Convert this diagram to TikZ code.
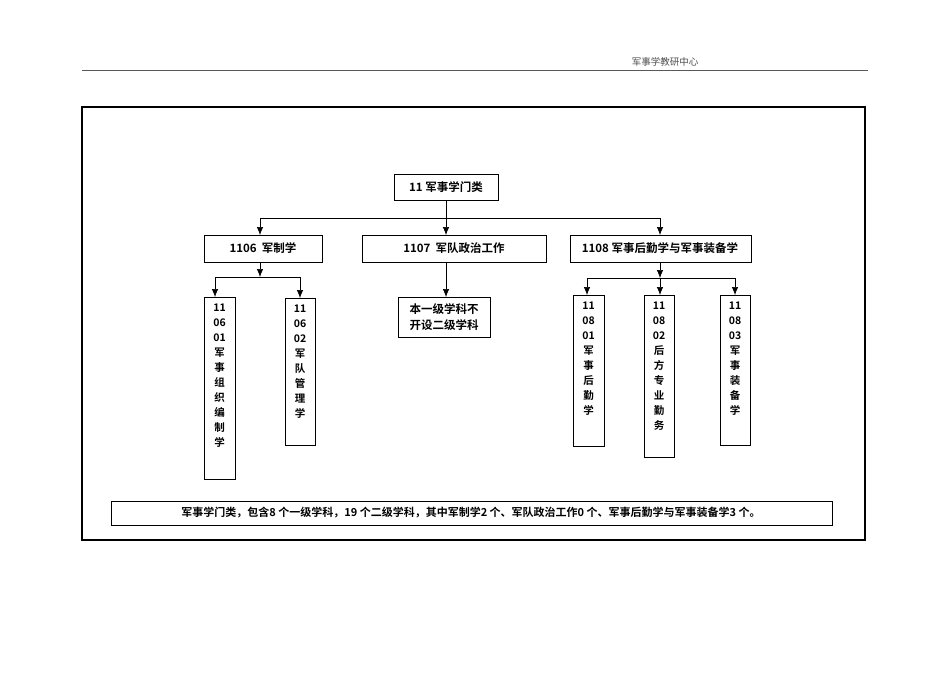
\documentclass[tikz,border=0pt]{standalone}
\usepackage{fontspec}
\usetikzlibrary{arrows.meta}
\newfontfamily\cjk{Noto Sans CJK SC}
\newfontfamily\cjkb{Noto Sans CJK SC Bold}
\begin{document}
\begin{tikzpicture}[x=1pt,y=-1pt,
  bx/.style={draw,line width=0.8pt},
  lbl/.style={font=\cjkb\fontsize{11.5}{13}\selectfont,inner sep=0pt},
  vt/.style={font=\cjkb\fontsize{10.5}{15}\selectfont,align=center,anchor=north,inner sep=0pt},
  ar/.style={-{Latex[length=8pt,width=6.5pt]},line width=0.7pt},
  ln/.style={line width=0.7pt}]
\useasboundingbox (0,0) rectangle (950,672);
\draw[line width=0.6pt,gray!70!black] (82,70) -- (868,70);
\node[font=\cjk\fontsize{9.5}{10}\selectfont,gray!60!black] (hdr) at (665,62) {军事学教研中心};
\draw[line width=1.6pt] (82,107) rectangle (865,540);
% top
\draw[bx] (394,174) rectangle (498,200); \node[lbl] (top) at (446,187) {11 军事学门类};
\coordinate (topb) at (446,200);
\draw[bx] (204,235) rectangle (322,262); \node[lbl] (a) at (263,248.5) {1106\ \ 军制学};
\draw[bx] (362,235) rectangle (546,262); \node[lbl] (b) at (454,248.5) {1107\ \ 军队政治工作};
\draw[bx] (570,235) rectangle (751,262); \node[lbl] (c) at (660,248.5) {1108 军事后勤学与军事装备学};
\draw[ln] (topb) -- (446,218);
\draw[ln] (260,218) -- (660,218);
\draw[ar] (260,218) -- (260,235);
\draw[ar] (446,218) -- (446,235);
\draw[ar] (660,218) -- (660,235);
% 1106 children
\draw[ar] (260,262) -- (260,277);
\draw[ln] (215,277) -- (300,277);
\draw[ar] (215,277) -- (215,297);
\draw[ar] (300,277) -- (300,298);
\draw[bx] (204,297) rectangle (235,479); \node[vt] (a1) at (219.5,304) {11\\06\\01\\军\\事\\组\\织\\编\\制\\学};
\draw[bx] (285,298) rectangle (315,445); \node[vt] (a2) at (300,305) {11\\06\\02\\军\\队\\管\\理\\学};
% 1107 child
\draw[ar] (446,262) -- (446,297);
\draw[bx] (398,297) rectangle (490,337);
\node[font=\cjkb\fontsize{11.5}{16}\selectfont,align=center,inner sep=0pt] (b1) at (444,317) {本一级学科不\\开设二级学科};
% 1108 children
\draw[ar] (660,262) -- (660,278);
\draw[ln] (587,278) -- (735,278);
\draw[ar] (587,278) -- (587,295);
\draw[ar] (660,278) -- (660,295);
\draw[ar] (735,278) -- (735,295);
\draw[bx] (573,295) rectangle (604,446); \node[vt] (c1) at (588.5,302) {11\\08\\01\\军\\事\\后\\勤\\学};
\draw[bx] (644,295) rectangle (674,457); \node[vt] (c2) at (659,302) {11\\08\\02\\后\\方\\专\\业\\勤\\务};
\draw[bx] (720,295) rectangle (750,445); \node[vt] (c3) at (735,302) {11\\08\\03\\军\\事\\装\\备\\学};
% bottom
\draw[bx] (111,501) rectangle (832,525);
\node[lbl,font=\cjkb\fontsize{11}{12}\selectfont] (note) at (471,513) {军事学门类，包含8 个一级学科，19 个二级学科，其中军制学2 个、军队政治工作0 个、军事后勤学与军事装备学3 个。};
\end{tikzpicture}
\end{document}
